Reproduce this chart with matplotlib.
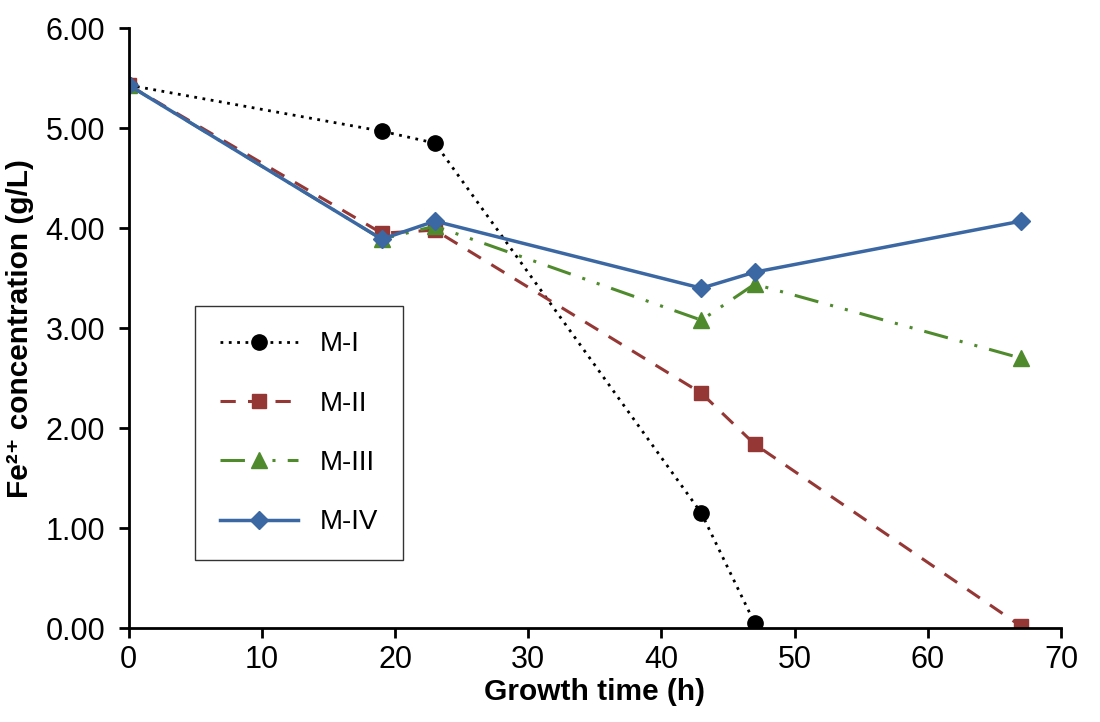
import matplotlib
matplotlib.use("Agg")
import matplotlib.pyplot as plt

plt.rcParams['font.family'] = ['Liberation Sans', 'DejaVu Sans']

# data
t_1 = [0, 19, 23, 43, 47]
m_1 = [5.43, 4.97, 4.85, 1.15, 0.05]
t_all = [0, 19, 23, 43, 47, 67]
m_2 = [5.43, 3.95, 3.98, 2.35, 1.84, 0.02]
m_3 = [5.43, 3.89, 4.02, 3.08, 3.44, 2.70]
m_4 = [5.43, 3.89, 4.07, 3.40, 3.56, 4.07]
labels = ["M-I", "M-II", "M-III", "M-IV"]

fig = plt.figure(figsize=(11, 7.22), dpi=100)
ax = fig.add_axes([0.117, 0.130, 0.8475, 0.831])

ax.plot(t_1, m_1, color="black", linestyle=(0, (1, 2)), lw=2,
        marker="o", ms=11, label=labels[0])
ax.plot(t_all, m_2, color="#953735", linestyle=(0, (5, 4)), lw=2.2,
        marker="s", ms=10, label=labels[1])
ax.plot(t_all, m_3, color="#4f8a2d", linestyle=(0, (8, 4, 1, 4, 1, 4)), lw=2.2,
        marker="^", ms=11, label=labels[2])
ax.plot(t_all, m_4, color="#3b68a3", linestyle="-", lw=2.5,
        marker="D", ms=9, label=labels[3])

ax.set_xlim(0, 70)
ax.set_ylim(0, 6)
ax.set_xticks(range(0, 71, 10))
ax.set_yticks([0, 1, 2, 3, 4, 5, 6])
ax.set_yticklabels(["%.2f" % v for v in range(7)])
ax.tick_params(labelsize=22, width=2, length=7, direction="out")
ax.tick_params(axis="y", pad=10)
ax.tick_params(axis="x", pad=5)
for s in ["top", "right"]:
    ax.spines[s].set_visible(False)
for s in ["left", "bottom"]:
    ax.spines[s].set_linewidth(2)

ax.set_xlabel("Growth time (h)", fontsize=21.5, fontweight="bold", labelpad=2)
ax.set_ylabel("Fe²⁺ concentration (g/L)", fontsize=21.5, fontweight="bold", labelpad=8)

leg = ax.legend(loc="lower left", bbox_to_anchor=(0.071, 0.113, 0.223, 0.417),
                mode="expand", fontsize=20, frameon=True, fancybox=False,
                edgecolor="black", labelspacing=1.2, handlelength=2.8,
                borderpad=0.9, borderaxespad=0)
leg.get_frame().set_linewidth(1)

fig.savefig("out.png", dpi=100)
